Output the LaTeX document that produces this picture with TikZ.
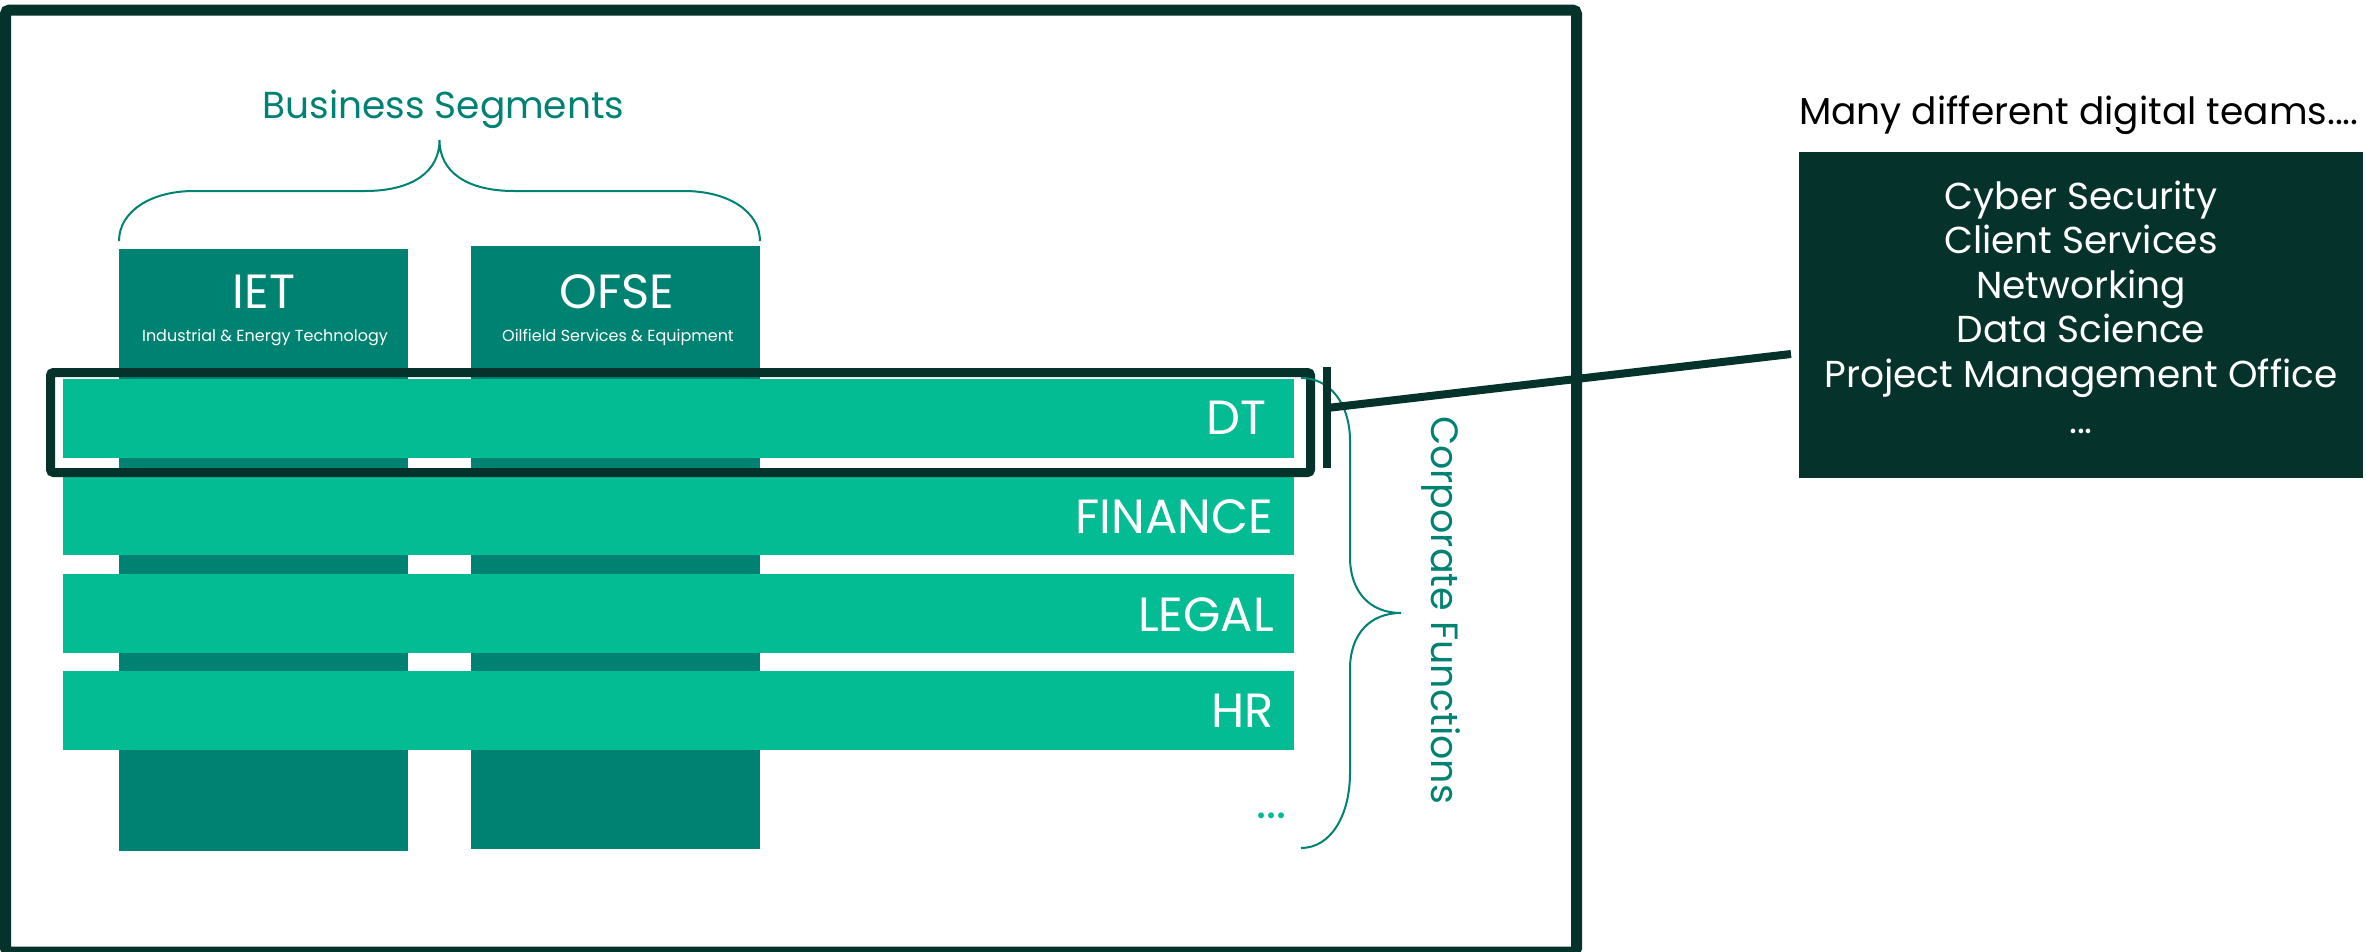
\documentclass[tikz,border=0pt]{standalone}
\usepackage{fontspec}
\setmainfont{Poppins}
\usetikzlibrary{calc}
\definecolor{dkgreen}{RGB}{5,50,43}
\definecolor{segteal}{RGB}{0,130,114}
\definecolor{brightg}{RGB}{3,188,148}
\begin{document}
\begin{tikzpicture}[x=1pt,y=-1pt,
  segbox/.style={fill=segteal,draw=none,inner sep=0,anchor=north west,minimum width=289},
  fbar/.style={fill=brightg,draw=none,inner sep=0,anchor=north west,minimum width=1231,minimum height=79},
  barlabel/.style={text=white,inner sep=0,anchor=base east,font=\fontsize{48}{56}\selectfont},
  seglabel/.style={text=white,inner sep=0,anchor=base,font=\fontsize{48}{56}\selectfont},
  segsub/.style={text=white,inner sep=0,anchor=base,font=\fontsize{16}{19}\selectfont},
  tealtitle/.style={text=segteal,inner sep=0,anchor=base,font=\fontsize{37.5}{44}\selectfont},
  bracestroke/.style={draw=segteal,line width=2},
  teamtxt/.style={text=white,inner sep=0,anchor=base,font=\fontsize{37.5}{44}\selectfont},
  darkline/.style={draw=dkgreen,line width=8}
]
\useasboundingbox (0,0) rectangle (2366,951);
% outer frame
\node[draw=dkgreen,line width=11,rounded corners=4,inner sep=0,anchor=north west,
      minimum width=1571,minimum height=942] (frame) at (0,4.5) {};
% business segment columns
\node[segbox,minimum height=602] (iet) at (119,249) {};
\node[segbox,minimum height=603] (ofse) at (471,246) {};
\node[seglabel] (ietlbl) at (264,308) {IET};
\node[seglabel] (ofselbl) at (617,308) {OFSE};
\node[segsub] (ietsub) at (265,341.5) {Industrial \& Energy Technology};
\node[segsub] (ofsesub) at (618,341.5) {Oilfield Services \& Equipment};
% business segments brace
\node[tealtitle] (bstitle) at (443.5,118) {Business Segments};
\coordinate (bsL) at (119,241);
\coordinate (bsR) at (760,241);
\coordinate (bsTip) at (439.5,140);
\draw[bracestroke] (bsL) .. controls (119,212) and (150,191) .. (194,191) -- (365,191)
  .. controls (412,191) and (439.5,172) .. (bsTip)
  .. controls (439.5,172) and (467,191) .. (514,191) -- (684,191)
  .. controls (729,191) and (760,212) .. (bsR);
% corporate function bars
\node[fbar] (dt) at (63,379) {};
\node[fbar] (fin) at (63,476) {};
\node[fbar] (legal) at (63,574) {};
\node[fbar] (hr) at (63,671) {};
\node[barlabel] (dtlbl) at (1267,434.5) {DT};
\node[barlabel] (finlbl) at (1273,533.5) {FINANCE};
\node[barlabel] (legallbl) at (1274,631.5) {LEGAL};
\node[barlabel] (hrlbl) at (1274,727) {HR};
\node[barlabel,text=brightg] (moredots) at (1287,818) {...};
% DT highlight
\node[draw=dkgreen,line width=9,rounded corners=3,inner sep=0,anchor=north west,
      minimum width=1260,minimum height=100] (dtframe) at (46,368) {};
% corporate functions brace
\coordinate (cfTop) at (1301,378);
\coordinate (cfBot) at (1301,848);
\coordinate (cfTip) at (1401,613);
\draw[bracestroke] (cfTop) .. controls (1331,378) and (1350,405) .. (1350,441) -- (1350,557)
  .. controls (1350,592) and (1370,613) .. (cfTip)
  .. controls (1370,613) and (1350,634) .. (1350,669) -- (1350,773)
  .. controls (1350,815) and (1331,848) .. (cfBot);
\node[tealtitle,rotate=-90,font=\fontsize{38}{44}\selectfont] (cftitle) at (1431,610) {Corporate Functions};
% link to teams
\coordinate (tickTop) at (1327,367);
\coordinate (tickBot) at (1327,468);
\draw[darkline] (tickTop) -- (tickBot);
\coordinate (linkStart) at (1327,408);
\coordinate (linkEnd) at (1791,354);
\draw[darkline] (linkStart) -- (linkEnd);
% teams box
\node[text=black,inner sep=0,anchor=base west,font=\fontsize{37.5}{44}\selectfont] (teamstitle) at (1799,124) {Many different digital teams....};
\node[fill=dkgreen,draw=none,inner sep=0,anchor=north west,minimum width=564,minimum height=326] (teams) at (1799,152) {};
\node[teamtxt] (t1) at (2081,209) {Cyber Security};
\node[teamtxt] (t2) at (2081,253.5) {Client Services};
\node[teamtxt] (t3) at (2081,298) {Networking};
\node[teamtxt] (t4) at (2081,342.5) {Data Science};
\node[teamtxt] (t5) at (2081,387.5) {Project Management Office};
\node[teamtxt] (t6) at (2081,433) {...};
\end{tikzpicture}
\end{document}
